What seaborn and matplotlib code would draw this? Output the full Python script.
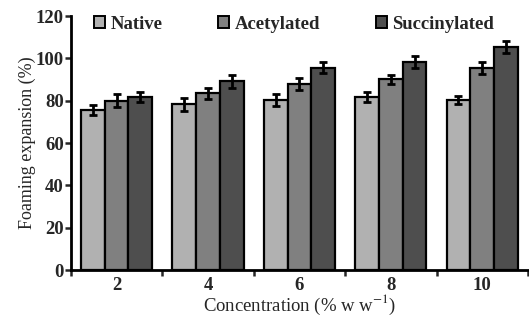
import matplotlib
matplotlib.use("Agg")
import matplotlib.pyplot as plt
import seaborn as sns
import pandas as pd
import numpy as np

concentrations = ["2", "4", "6", "8", "10"]
series_names = ["Native", "Acetylated", "Succinylated"]
native = [75.6, 78.4, 80.3, 81.9, 80.3]
acetylated = [80.0, 83.5, 87.9, 90.1, 95.6]
succinylated = [81.9, 89.3, 95.6, 98.3, 105.4]
native_err = [2.2, 3.1, 2.7, 2.4, 1.9]
acetylated_err = [3.0, 2.6, 2.9, 2.2, 2.9]
succinylated_err = [2.4, 3.1, 2.5, 3.0, 3.0]
yticks = [0, 20, 40, 60, 80, 100, 120]

colors = ["#b1b1b1", "#808080", "#4e4e4e"]

sns.set_theme(style="ticks")
plt.rcParams['font.family'] = ['Liberation Serif', 'DejaVu Serif']
plt.rcParams['mathtext.fontset'] = 'stix'

df = pd.DataFrame({
    "Concentration": concentrations * 3,
    "Series": [s for s in series_names for _ in concentrations],
    "Value": native + acetylated + succinylated,
    "Err": native_err + acetylated_err + succinylated_err,
})

fig = plt.figure(figsize=(5.29, 3.22), dpi=100)
ax = fig.add_axes([0.134, 0.161, 0.864, 0.789])

sns.barplot(data=df, x="Concentration", y="Value", hue="Series",
            hue_order=series_names, order=concentrations,
            palette=colors, errorbar=None, width=0.78,
            edgecolor="black", linewidth=1.6, ax=ax, saturation=1)

# error bars at seaborn's bar positions
for container, s in zip(ax.containers, series_names):
    sub = df[df["Series"] == s].set_index("Concentration").loc[concentrations]
    xs = [p.get_x() + p.get_width() / 2 for p in container.patches]
    hs = [p.get_height() for p in container.patches]
    ax.errorbar(xs, hs, yerr=sub["Err"].values, fmt="none", ecolor="black",
                elinewidth=2.0, capsize=2.6, capthick=2.0, zorder=5)

ax.set_xlim(-0.5, len(concentrations) - 0.5)
ax.set_ylim(0, 120)
ax.set_yticks(yticks)
ax.set_yticklabels([str(t) for t in yticks], fontweight="bold", fontsize=13.5)

ax.set_xticks(range(len(concentrations)))
ax.set_xticklabels(concentrations, fontweight="bold", fontsize=13.5)
ax.tick_params(axis="x", which="major", length=0, pad=5)
ax.set_xticks(np.arange(-0.5, len(concentrations), 1.0), minor=True)
ax.tick_params(axis="x", which="minor", length=4, width=1.8, direction="out")
ax.tick_params(axis="y", length=4, width=1.8, direction="out", pad=1)

for side in ["top", "right"]:
    ax.spines[side].set_visible(False)
for side in ["left", "bottom"]:
    ax.spines[side].set_linewidth(2.0)
    ax.spines[side].set_color("black")

ax.set_xlabel("Concentration (% w w$^{-1}$)", fontsize=13.5, labelpad=-1)
ax.set_ylabel("Foaming expansion (%)", fontsize=13, labelpad=0)

leg = ax.legend(loc="center left", bbox_to_anchor=(0.05, 0.968), ncol=3, frameon=False,
                prop={"weight": "bold", "size": 13.5}, handlelength=0.6, handleheight=0.6,
                handletextpad=0.3, columnspacing=2.95, borderaxespad=0, borderpad=0)
for h in leg.legend_handles:
    h.set_edgecolor("black")
    h.set_linewidth(1.4)

fig.savefig("out.png", dpi=100)
